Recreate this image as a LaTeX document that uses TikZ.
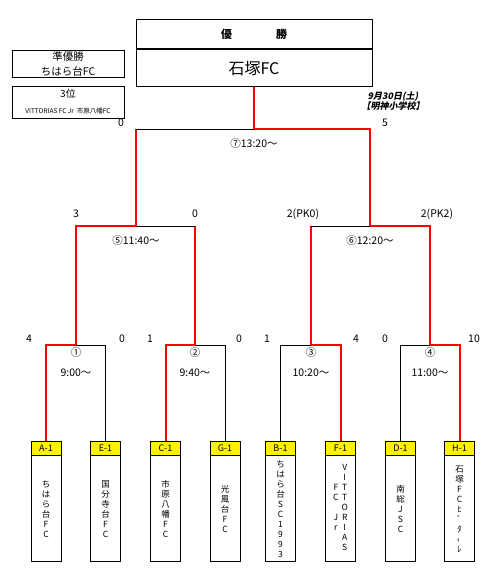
\documentclass[tikz,border=0pt]{standalone}
\usepackage{fontspec}
\setmainfont{Noto Sans CJK JP}
\newfontfamily\slantjp[FakeSlant=0.2]{Noto Sans CJK JP}
\usepackage{tikz}
\usetikzlibrary{positioning}
\tikzset{win/.style={draw=red,line width=2pt},lose/.style={draw=black,line width=0.8pt},
	head/.style={draw,fill=yellow,line width=0.9pt,minimum width=30pt,minimum height=14pt,inner sep=0pt,font=\fontsize{9}{10}\selectfont},
	body/.style={draw,line width=0.9pt,minimum width=30pt,minimum height=106pt,inner sep=0pt,align=center,font=\fontsize{8.5}{10}\selectfont},
	sc/.style={inner sep=0pt,font=\fontsize{10.5}{11}\selectfont},
	box/.style={draw,line width=0.8pt,inner sep=0pt,align=center}}
\newcommand{\vitto}{\begin{tabular}{@{}c@{\hspace{3pt}}c@{}}&V\\&I\\F&T\\C&T\\&O\\J&R\\r&I\\&A\\&S\end{tabular}}

\begin{document}
\begin{tikzpicture}[x=1pt,y=-1pt]
	\useasboundingbox (0,0) rectangle (498,575);
	% champion
	\node[box,line width=1pt,minimum width=236pt,minimum height=29pt,font=\fontsize{11}{12}\selectfont\bfseries] (yusho) at (254,34.5) {優\hspace{44pt}勝};
	\node[box,line width=1pt,minimum width=236pt,minimum height=37pt,below=0pt of yusho,font=\fontsize{16}{17}\selectfont] (champ) {石塚FC};
	\node[box,minimum width=112pt,minimum height=27pt,font=\fontsize{10.5}{15}\selectfont] (jun) at (68,63.5) {準優勝\\ちはら台FC};
	\node[box,minimum width=112pt,minimum height=32pt] (third) at (68,102) {{\fontsize{10}{10}\selectfont 3位}\\[4pt]{\fontsize{6.5}{7}\selectfont VITTORIAS FC Jr\ \ 市原八幡FC}};
	\node[inner sep=0pt,align=center,font=\fontsize{9}{9}\selectfont\slantjp\bfseries] (day) at (393,101) {9月30日(土)\\【明神小学校】};
	% teams
	\foreach \id/\x/\nm in {A/46/{ち\\は\\ら\\台\\F\\C},E/105.5/{国\\分\\寺\\台\\F\\C},C/165.5/{市\\原\\八\\幡\\F\\C},G/225/{光\\風\\台\\F\\C},
		B/280.5/{ち\\は\\ら\\台\\S\\C\\1\\9\\9\\3},F/340.5/{\vitto},D/400.5/{南\\総\\J\\S\\C},H/459.5/{石\\塚\\F\\C\\ﾋ\\ﾟ\\ﾀ\\\rotatebox{90}{ｰ}\\ﾚ}}{
		\node[head] (h\id) at (\x,448) {\id-1};
		\node[body,below=0pt of h\id] (t\id) {\nm};
	}
	\coordinate (m1) at (76,345);
	\coordinate (m2) at (195,345);
	\coordinate (m3) at (311,345);
	\coordinate (m4) at (430,345);
	\coordinate (m5) at (136,226);
	\coordinate (m6) at (370,226);
	\coordinate (m7) at (254,129);
	% first round
	\draw[win] (hA.north) |- (m1);
	\draw[lose] (hE.north) |- (m1);
	\draw[win] (hC.north) |- (m2);
	\draw[lose] (hG.north) |- (m2);
	\draw[lose] (hB.north) |- (m3);
	\draw[win] (hF.north) |- (m3);
	\draw[lose] (hD.north) |- (m4);
	\draw[win] (hH.north) |- (m4);
	% semi finals
	\draw[win] (m1) |- (m5);
	\draw[win] (m2) -- (m2 |- m5);
	\draw[lose] (m2 |- m5) -- (m5);
	\draw[win] (m3) -- (m3 |- m6);
	\draw[lose] (m3 |- m6) -- (m6);
	\draw[win] (m4) |- (m6);
	% final
	\draw[win] (m5) -- (m5 |- m7);
	\draw[lose] (m5 |- m7) -- (m7);
	\draw[win] (m6) |- (m7);
	\draw[win] (m7) -- (champ.south);
	% times
	\node[sc] (k7) at (254,144) {⑦13:20～};
	\node[sc] (k5) at (136,241) {⑤11:40～};
	\node[sc] (k6) at (370,241) {⑥12:20～};
	\foreach \n/\x/\t in {1/76/9:00～,2/195/9:40～,3/311/10:20～,4/430/11:00～}{
		\node[sc] (c\n) at (\x,353) {\ifcase\n\or①\or②\or③\or④\fi};
		\node[sc] (k\n) at (\x,373) {\t};
	}
	% scores
	\foreach \x/\y/\s [count=\i] in {121/123/0,385/123/5,76/214/3,195/214/0,303/214/2(PK0),437/214/2(PK2),
		29/339/4,122/339/0,150/339/1,239/339/0,267/339/1,356/339/4,385/339/0,474/339/10}
		\node[sc] (s\i) at (\x,\y) {\s};
\end{tikzpicture}
\end{document}
